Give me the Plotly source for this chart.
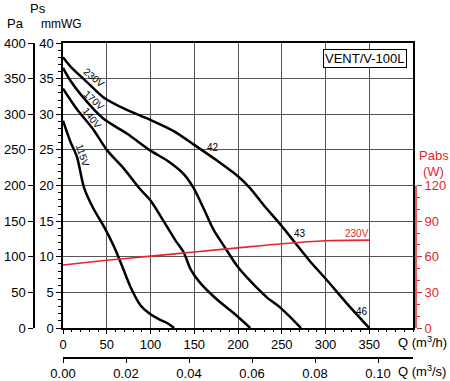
import plotly.graph_objects as go

# ---- data (Q in m3/h, Ps in mmWG, Pabs in W) ----
q_230 = [0, 10, 25, 46, 73, 100, 127, 150, 176, 200, 214, 229, 250, 265, 282, 301, 324, 350]
ps_230 = [38.0, 36.5, 34.8, 32.4, 30.6, 29.2, 27.6, 25.7, 23.5, 21.3, 19.6, 17.3, 14.3, 12.0, 9.4, 6.8, 3.5, 0]

q_170 = [0, 8, 19.5, 46, 73, 100, 119, 138, 149, 161, 172, 184, 199, 214, 233, 248, 260, 272]
ps_170 = [36.5, 34.8, 32.9, 29.4, 27.3, 24.9, 23.5, 21.6, 19.7, 16.7, 13.8, 11.5, 8.7, 6.6, 4.3, 2.9, 1.5, 0]

q_140 = [0, 16, 35, 50, 70, 88, 100, 115, 129, 138, 146, 157, 176, 195, 214]
ps_140 = [33.6, 30.7, 27.8, 25.0, 22.3, 19.5, 17.9, 15.0, 12.2, 10.6, 8.2, 6.3, 4.0, 2.1, 0]

q_115 = [0, 8.6, 16, 24, 35, 46.5, 58, 67.5, 77, 88.5, 98, 110, 119, 127]
ps_115 = [29.1, 26.1, 24.0, 19.7, 16.7, 14.3, 11.5, 8.7, 5.8, 3.2, 2.1, 1.2, 0.7, 0]

q_pabs = [0, 50, 100, 150, 200, 250, 300, 350]
pabs_230 = [53, 57, 60.5, 64, 67.5, 71, 73.5, 74]

q_ticks = [0, 50, 100, 150, 200, 250, 300, 350]
qs_ticks = [0.00, 0.02, 0.04, 0.06, 0.08, 0.10]
pa_ticks = [0, 50, 100, 150, 200, 250, 300, 350, 400]
w_ticks = [0, 30, 60, 90, 120]
w_minor = [10, 20, 40, 50, 70, 80, 100, 110]

FONT = "Liberation Sans, Arial, Helvetica, sans-serif"
RED = "#e3262d"
GRID = "#555555"

fig = go.Figure()
for qx, py in [(q_230, ps_230), (q_170, ps_170), (q_140, ps_140), (q_115, ps_115)]:
    fig.add_trace(go.Scatter(x=qx, y=py, mode="lines",
                             line=dict(color="black", width=2.5, shape="spline", smoothing=0.8),
                             showlegend=False, hoverinfo="skip"))
fig.add_trace(go.Scatter(x=q_pabs, y=pabs_230, xaxis="x", yaxis="y2", mode="lines",
                         line=dict(color=RED, width=1.6, shape="spline", smoothing=0.8),
                         showlegend=False, hoverinfo="skip"))
# helper traces so the extra axes are rendered
fig.add_trace(go.Scatter(x=[0, 400 / 3600], y=[0, 0], xaxis="x2", yaxis="y", mode="markers",
                         marker=dict(opacity=0), showlegend=False, hoverinfo="skip"))
fig.add_trace(go.Scatter(x=[0, 0], y=[0, 400], xaxis="x", yaxis="y3", mode="markers",
                         marker=dict(opacity=0), showlegend=False, hoverinfo="skip"))

W, H = 450, 381
L_s, R_s, T_s, B_s = 34, 420, 43, 358          # plot-area edges in px
pw, ph = R_s - L_s, B_s - T_s


def px(sx):
    return (sx - L_s) / pw


def py_(sy):
    return (B_s - sy) / ph


xdom = [px(63), px(413)]
ydom = [py_(328), 1]

fig.update_layout(
    width=W, height=H,
    margin=dict(l=L_s, r=W - R_s, t=T_s, b=H - B_s, autoexpand=False),
    paper_bgcolor="white", plot_bgcolor="white",
    font=dict(family=FONT, size=13, color="black"),
    showlegend=False, hovermode=False, dragmode=False,
    xaxis=dict(domain=xdom, range=[0, 400], anchor="y", tickvals=q_ticks, ticks="outside", ticklen=4,
               tickcolor="black", showspikes=False,
               minor=dict(dtick=10, tick0=0, ticks="outside", ticklen=2, tickcolor="black", showgrid=False),
               showgrid=True, gridcolor=GRID, gridwidth=1.2, showline=True, linecolor="black", linewidth=1.5,
               mirror=True, zeroline=False, tickfont=dict(size=13)),
    xaxis2=dict(overlaying="x", anchor="free", position=0, range=[0, 400 / 3600], tickvals=qs_ticks,
                ticktext=[f"{v:.2f}" for v in qs_ticks], ticks="outside", ticklen=4, tickcolor="black",
                showline=True, linecolor="black", linewidth=1.5, showgrid=False, zeroline=False,
                side="bottom", tickfont=dict(size=13)),
    yaxis=dict(domain=ydom, range=[0, 40], dtick=5, tick0=0, ticks="outside", ticklen=5, tickcolor="black",
               minor=dict(dtick=1, tick0=0, ticks="outside", ticklen=3, tickcolor="black", showgrid=False),
               showgrid=True, gridcolor=GRID, gridwidth=1.2, showline=True, linecolor="black", linewidth=1.5,
               mirror=True, zeroline=False, tickfont=dict(size=13)),
    yaxis3=dict(overlaying="y", anchor="free", position=0, side="left", range=[0, 400], tickvals=pa_ticks,
                ticks="outside", ticklen=5, tickcolor="black", showline=True, linecolor="black", linewidth=1.5,
                showgrid=False, zeroline=False, tickfont=dict(size=13)),
    yaxis2=dict(overlaying="y", anchor="free", position=px(416), side="right", range=[0, 240],
                tickvals=w_ticks, ticks="outside", ticklen=5, tickcolor=RED,
                minor=dict(tickvals=w_minor, ticks="outside", ticklen=3, tickcolor=RED, showgrid=False),
                showline=False, showgrid=False, zeroline=False,
                tickfont=dict(size=13, color=RED)),
    shapes=[dict(type="line", xref="paper", yref="y2", x0=px(416), x1=px(416), y0=0, y1=w_ticks[-1],
                 line=dict(color=RED, width=1.5))],
)

ann = []


def add(text, x, y, xref="paper", yref="paper", size=13, color="black", angle=0, xanchor="center", **kw):
    ann.append(dict(text=text, x=x, y=y, xref=xref, yref=yref, showarrow=False, textangle=angle,
                    font=dict(size=size, color=color, family=FONT), xanchor=xanchor, yanchor="middle", **kw))


add("Q (m<sup>3</sup>/h)", px(396), py_(342), xanchor="left")
add("Q (m<sup>3</sup>/s)", px(396), py_(371), xanchor="left")
add("Pa", px(15), py_(24), size=13)
add("Ps", px(37.5), py_(8.5), size=13)
add("mmWG", px(61), py_(24), size=12)
add("Pabs", px(434), py_(155), color=RED)
add("(W)", px(434), py_(171), color=RED)
add("VENT/V-100L", px(365), py_(58), bordercolor="black", borderwidth=1, borderpad=1, bgcolor="white")

add("230V", 35, 35.1, "x", "y", size=10, angle=40)
add("170V", 35.5, 31.9, "x", "y", size=10, angle=42)
add("140V", 33.5, 29.4, "x", "y", size=10, angle=52)
add("115V", 22.5, 24.2, "x", "y", size=10, angle=72)
add("42", 171.5, 25.3, "x", "y", size=10)
add("43", 271, 13.3, "x", "y", size=10)
add("46", 342, 2.25, "x", "y", size=10)
add("230V", 336, 13.3, "x", "y", size=10, color=RED)
fig.update_layout(annotations=ann)

fig.write_html("out.html",
               config={"displayModeBar": False},
               post_script="document.body.style.margin='0';document.body.style.padding='0';"
                           "document.body.style.overflow='hidden';")
